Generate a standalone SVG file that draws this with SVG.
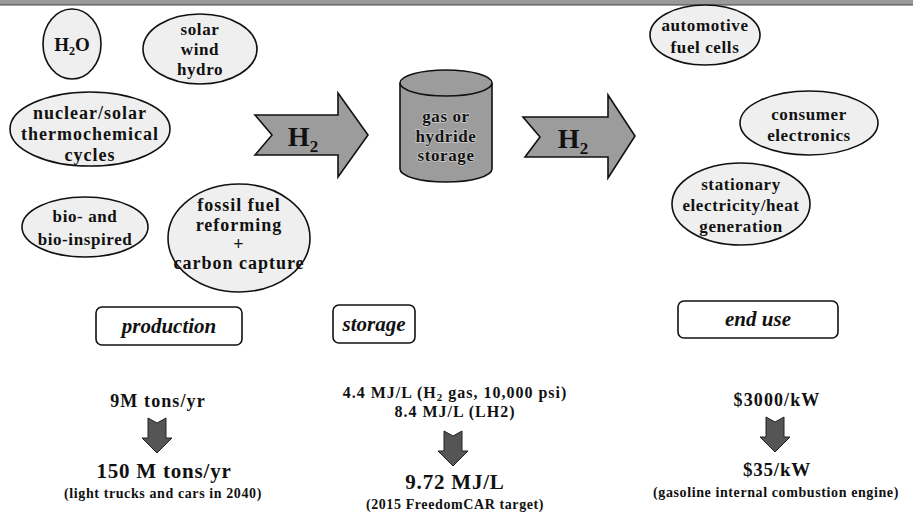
<svg xmlns="http://www.w3.org/2000/svg" width="913" height="517" viewBox="0 0 913 517">
<style>
  .ell { fill: #efefef; stroke: #111; stroke-width: 1.6; }
  .t { font-family: "Liberation Serif", "Times New Roman", serif; font-weight: bold; fill: #111; text-anchor: middle; }
  .e17 { font-size: 17px; letter-spacing: 0.6px; }
  .e18 { font-size: 18px; letter-spacing: 1px; }
  .box { fill: #fff; stroke: #111; stroke-width: 1.6; }
  .lab { font-family: "Liberation Serif", "Times New Roman", serif; font-weight: bold; font-style: italic; font-size: 21px; fill: #111; text-anchor: middle; }
  .big { fill: #9c9c9c; stroke: #111; stroke-width: 1.6; }
  .small { fill: #555; stroke: #222; stroke-width: 1; }
  .n17 { font-size: 18px; letter-spacing: 1.1px; }
  .n20 { font-size: 21px; letter-spacing: 0.8px; }
  .n14 { font-size: 14px; letter-spacing: 0.6px; }
</style>
<defs>
  <path id="down" d="M -9 0 L 0 5 L 9 0 L 9 20 L 15 20 L 0 35 L -15 20 L -9 20 Z"/>
</defs>
<rect x="0" y="0" width="913" height="5" fill="#9a9a9a"/>
<line x1="0" y1="5" x2="913" y2="5" stroke="#444" stroke-width="1.2"/>

<g id="h2o">
  <ellipse class="ell" cx="72" cy="44" rx="29" ry="35"/>
  <text class="t" x="72" y="51" font-size="19">H<tspan font-size="12" dy="4">2</tspan><tspan dy="-4">O</tspan></text>
</g>
<g id="solar">
  <ellipse class="ell" cx="200" cy="49" rx="57" ry="35"/>
  <text class="t e17" x="200" y="35">solar</text>
  <text class="t e17" x="200" y="55">wind</text>
  <text class="t e17" x="200" y="75">hydro</text>
</g>
<g id="nuclear">
  <ellipse class="ell" cx="90" cy="129" rx="80" ry="37"/>
  <text class="t e18" x="90" y="119">nuclear/solar</text>
  <text class="t e18" x="90" y="140">thermochemical</text>
  <text class="t e18" x="90" y="161">cycles</text>
</g>
<g id="bio">
  <ellipse class="ell" cx="85" cy="227" rx="63" ry="30"/>
  <text class="t e17" x="85" y="222">bio- and</text>
  <text class="t e17" x="85" y="245">bio-inspired</text>
</g>
<g id="fossil">
  <ellipse class="ell" cx="239" cy="238" rx="71" ry="54"/>
  <text class="t e18" x="239" y="211">fossil fuel</text>
  <text class="t e18" x="239" y="231">reforming</text>
  <text class="t e18" x="239" y="250">+</text>
  <text class="t e18" x="239" y="269">carbon capture</text>
</g>

<g id="connectors">
  <g id="arrow1">
    <path class="big" d="M255 115 L338 115 L338 93 L368 135 L338 177 L338 155 L255 155 L272 135 Z"/>
    <text class="t" x="303" y="146" font-size="28">H<tspan font-size="17" dy="6">2</tspan></text>
  </g>
  <g id="arrow2">
    <path class="big" d="M523 117 L608 117 L608 95 L635 136 L608 178 L608 157 L525 157 L540 137 Z"/>
    <text class="t" x="573" y="148" font-size="28">H<tspan font-size="17" dy="6">2</tspan></text>
  </g>
  <use href="#down" class="small" x="157" y="418"/>
  <use href="#down" class="small" x="453" y="431"/>
  <use href="#down" class="small" x="775" y="417"/>
</g>

<g id="storage-tank">
  <path class="big" d="M400 83 L400 169 A46 13 0 0 0 492 169 L492 83"/>
  <ellipse class="big" cx="446" cy="83" rx="46" ry="13"/>
  <text class="t e17" x="446" y="122" stroke="#ccc" stroke-width="1.5" paint-order="stroke">gas or</text>
  <text class="t e17" x="446" y="142" stroke="#ccc" stroke-width="1.5" paint-order="stroke">hydride</text>
  <text class="t e17" x="446" y="161" stroke="#ccc" stroke-width="1.5" paint-order="stroke">storage</text>
</g>

<g id="automotive">
  <ellipse class="ell" cx="705" cy="35" rx="55" ry="30"/>
  <text class="t e17" x="705" y="31">automotive</text>
  <text class="t e17" x="705" y="53">fuel cells</text>
</g>
<g id="consumer">
  <ellipse class="ell" cx="809" cy="123" rx="69" ry="32"/>
  <text class="t e17" x="809" y="120">consumer</text>
  <text class="t e17" x="809" y="141">electronics</text>
</g>
<g id="stationary">
  <ellipse class="ell" cx="741" cy="204" rx="69" ry="41"/>
  <text class="t e17" x="741" y="190">stationary</text>
  <text class="t e17" x="741" y="211">electricity/heat</text>
  <text class="t e17" x="741" y="232">generation</text>
</g>

<g id="production">
  <rect class="box" x="96" y="307" width="146" height="38" rx="6"/>
  <text class="lab" x="169" y="333">production</text>
</g>
<g id="storage">
  <rect class="box" x="333" y="305" width="82" height="38" rx="6"/>
  <text class="lab" x="374" y="331">storage</text>
</g>
<g id="enduse">
  <rect class="box" x="678" y="301" width="160" height="37" rx="6"/>
  <text class="lab" x="758" y="326">end use</text>
</g>

<g id="production-stats">
  <text class="t n17" x="158" y="407">9M tons/yr</text>
  <text class="t n20" x="164" y="478">150 M tons/yr</text>
  <text class="t n14" x="163" y="498">(light trucks and cars in 2040)</text>
</g>
<g id="storage-stats">
  <text class="t" x="455" y="398" font-size="16" letter-spacing="1">4.4 MJ/L (H<tspan font-size="11" dy="3">2</tspan><tspan dy="-3"> gas, 10,000 psi)</tspan></text>
  <text class="t" x="455" y="417" font-size="16" letter-spacing="1">8.4 MJ/L (LH2)</text>
  <text class="t n20" x="455" y="489">9.72 MJ/L</text>
  <text class="t n14" x="455" y="509">(2015 FreedomCAR target)</text>
</g>
<g id="enduse-stats">
  <text class="t n17" x="777" y="406">$3000/kW</text>
  <text class="t" x="777" y="476" font-size="19" letter-spacing="0.8">$35/kW</text>
  <text class="t n14" x="776" y="497">(gasoline internal combustion engine)</text>
</g>
</svg>
